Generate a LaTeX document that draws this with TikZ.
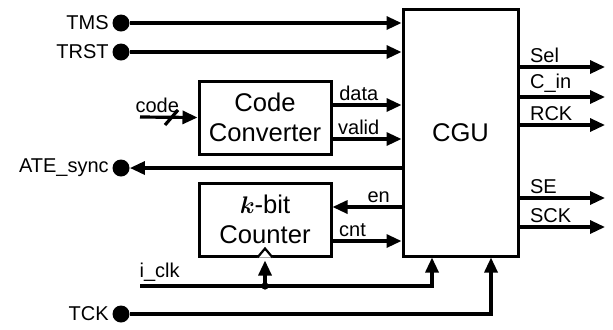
\documentclass[tikz,border=0pt]{standalone}
\usepackage{fontspec}
\setmainfont{Liberation Sans}
\usepackage{bm}
\usetikzlibrary{arrows.meta}

\begin{document}
\begin{tikzpicture}[x=0.5pt,y=-0.5pt,
    blk/.style={draw, line width=1.5pt, inner sep=0pt, align=center,
      font=\fontsize{12.8}{15}\selectfont},
    pin/.style={circle, fill, inner sep=0pt, minimum size=8.5pt},
    wire/.style={line width=1.6pt},
    sig/.style={wire, -{Triangle[length=7.5pt,width=6.5pt]}},
    lbl/.style={font=\fontsize{10}{12}\selectfont, inner sep=1.5pt}]
  \useasboundingbox (0,0) rectangle (613,329);

  % blocks
  \node[blk, minimum width=57.5pt, minimum height=123.5pt] (cgu) at (460.5,132.5) {CGU};
  \node[blk, minimum width=66pt, minimum height=36.5pt] (conv) at (265,117.5) {Code\\Converter};
  \node[blk, minimum width=66pt, minimum height=36.5pt] (counter) at (265,219.5) {$\bm{k}$-bit\\Counter};

  % pins
  \node[pin, label={[lbl]left:TMS}] (tms) at (121,23) {};
  \node[pin, label={[lbl]left:TRST}] (trst) at (121,52) {};
  \node[pin, label={[lbl]left:ATE\_sync}] (ate) at (121,168) {};
  \node[pin, label={[lbl]left:TCK}] (tck) at (121,314) {};

  \coordinate (codein) at (140,117);
  \coordinate (iclk) at (140,286);

  % outputs
  \coordinate (sel) at (605,67);
  \coordinate (cin) at (605,97);
  \coordinate (rck) at (605,125);
  \coordinate (se) at (605,198);
  \coordinate (sck) at (605,227);

  % inputs to CGU
  \draw[sig] (tms) -- (tms -| cgu.west);
  \draw[sig] (trst) -- (trst -| cgu.west);
  \draw[sig] (ate -| cgu.west) -- (ate);

  \draw[sig] (codein) -- (conv.west) node[lbl, pos=.3, above] {code};
  \draw[wire] (165,125) -- (178,110);

  \draw[sig] (conv.east |- 0,105) -- (cgu.west |- 0,105) node[lbl, pos=.38, above] {data};
  \draw[sig] (conv.east |- 0,139) -- (cgu.west |- 0,139) node[lbl, pos=.38, above] {valid};
  \draw[sig] (cgu.west |- 0,207) -- (counter.east |- 0,207) node[lbl, pos=.33, above] {en};
  \draw[sig] (counter.east |- 0,241) -- (cgu.west |- 0,241) node[lbl, pos=.29, above] {cnt};

  % clocks
  \draw[sig] (iclk) -| ([xshift=-14.25pt]cgu.south) node[lbl, pos=0, above right, inner sep=0pt, xshift=-1pt, yshift=1.5pt] {i\_clk};
  \coordinate (br) at (counter.south |- iclk);
  \fill (br) circle[radius=1.8pt];
  \draw[sig] (br) -- ([yshift=-1.5pt]counter.south);
  \draw[line width=1.1pt, fill=white] ([xshift=-3.8pt]counter.south) -- ([yshift=4.5pt]counter.south) -- ([xshift=3.8pt]counter.south);
  \draw[sig] (tck) -| ([xshift=15.25pt]cgu.south);

  % outputs of CGU
  \draw[sig] (cgu.east |- sel) -- (sel) node[lbl, pos=0, above right, xshift=3pt] {Sel};
  \draw[sig] (cgu.east |- cin) -- (cin) node[lbl, pos=0, above right, xshift=3pt] {C\_in};
  \draw[sig] (cgu.east |- rck) -- (rck) node[lbl, pos=0, above right, xshift=3pt] {RCK};
  \draw[sig] (cgu.east |- se) -- (se) node[lbl, pos=0, above right, xshift=3pt] {SE};
  \draw[sig] (cgu.east |- sck) -- (sck) node[lbl, pos=0, above right, xshift=3pt] {SCK};
\end{tikzpicture}
\end{document}
